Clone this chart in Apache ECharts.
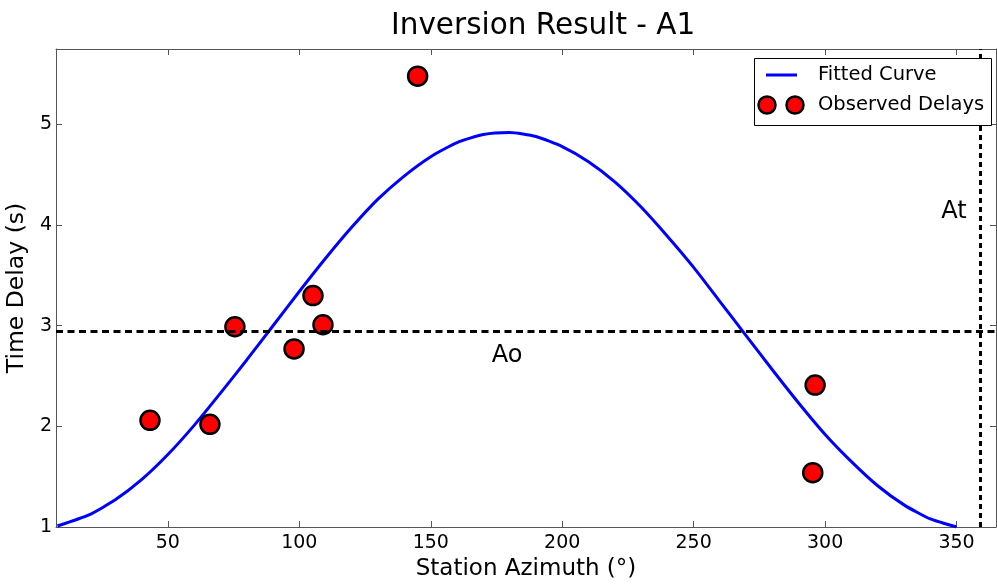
<!DOCTYPE html>
<html>
<head>
<meta charset="utf-8">
<script src="https://cdn.jsdelivr.net/npm/echarts@6/dist/echarts.min.js"></script>
<style>
  html, body { margin: 0; padding: 0; background: #fff; }
  #chart { width: 997px; height: 584px; }
</style>
</head>
<body>
<div id="chart"></div>
<script>
// observed station delays
var azimuth = [43.2, 66.0, 75.5, 98.0, 105.2, 109.0, 145.0, 296.2, 295.3];
var delay   = [2.06, 2.02, 2.99, 2.77, 3.30, 3.01, 5.48, 2.41, 1.54];

// fitted curve
var curveX = [8, 20, 30, 40, 50, 60, 70, 80, 90, 100, 110, 120, 130, 140, 150, 160, 170, 180,
              190, 200, 210, 220, 230, 240, 250, 260, 270, 280, 290, 300, 310, 320, 330, 340, 350];
var curveY = [1.01, 1.12, 1.27, 1.47, 1.72, 2.01, 2.33, 2.66, 3.00, 3.34, 3.67, 3.98, 4.26, 4.49,
              4.68, 4.82, 4.90, 4.92, 4.88, 4.78, 4.63, 4.43, 4.18, 3.89, 3.58, 3.24, 2.90, 2.56,
              2.23, 1.92, 1.65, 1.41, 1.22, 1.08, 1.00];

// reference lines
var aoValue = 2.95;   // horizontal line (Ao)
var atValue = 359;    // vertical line (At)

// annotation labels [x, y, text]
var notes = [[179, 2.70, 'Ao'], [349, 4.13, 'At']];

var font = 'DejaVu Sans';
var xMin = 7.45, xMax = 365, yMin = 1, yMax = 5.75;

var chart = echarts.init(document.getElementById('chart'));

var frameLine = { show: true, lineStyle: { color: '#555', width: 1 } };
var innerTick = { show: true, inside: true, length: 6, lineStyle: { color: '#555', width: 1 } };

var option = {
  animation: false,
  backgroundColor: '#fff',
  title: {
    text: 'Inversion Result - A1',
    left: 386, top: 6,
    textStyle: { fontFamily: font, fontSize: 29.5, fontWeight: 'normal', color: '#000' }
  },
  grid: { left: 56, right: 1, top: 49, bottom: 57, outerBoundsMode: 'none', containLabel: false },
  xAxis: [
    {
      type: 'value', min: xMin, max: xMax, splitNumber: 7,
      name: 'Station Azimuth (°)', nameLocation: 'middle', nameGap: 30,
      nameTextStyle: { fontFamily: font, fontSize: 23, color: '#000' },
      axisLine: frameLine, axisTick: innerTick, splitLine: { show: false },
      axisLabel: { fontFamily: font, fontSize: 19, color: '#000', margin: 7,
                   showMinLabel: false, showMaxLabel: false }
    },
    {
      type: 'value', position: 'top', min: xMin, max: xMax, splitNumber: 7,
      axisLine: frameLine, axisTick: innerTick, splitLine: { show: false },
      axisLabel: { show: false }
    }
  ],
  yAxis: [
    {
      type: 'value', min: yMin, max: yMax, interval: 1,
      name: 'Time Delay (s)', nameLocation: 'middle', nameGap: 20,
      nameTextStyle: { fontFamily: font, fontSize: 23.5, color: '#000' },
      axisLine: frameLine, axisTick: innerTick, splitLine: { show: false },
      axisLabel: { fontFamily: font, fontSize: 19, color: '#000', margin: 4,
                   showMaxLabel: false }
    },
    {
      type: 'value', position: 'right', min: yMin, max: yMax, interval: 1,
      axisLine: frameLine, axisTick: innerTick, splitLine: { show: false },
      axisLabel: { show: false }
    }
  ],
  series: [
    {
      name: 'Reference',
      type: 'line',
      data: [],
      markLine: {
        silent: true,
        symbol: 'none',
        label: { show: false },
        data: [
          { yAxis: aoValue, lineStyle: { type: [7, 4.5], color: '#000', width: 3 } },
          { xAxis: atValue, lineStyle: { type: [5, 4], color: '#000', width: 3 } }
        ]
      }
    },
    {
      name: 'Fitted Curve',
      type: 'line',
      smooth: 0.2,
      showSymbol: false,
      symbol: 'none',
      lineStyle: { color: '#0000ff', width: 3 },
      data: curveX.map(function (x, i) { return [x, curveY[i]]; }),
      z: 3
    },
    {
      name: 'Observed Delays',
      type: 'scatter',
      symbolSize: 19,
      itemStyle: { color: '#ff0000', borderColor: '#000', borderWidth: 2.5, opacity: 1 },
      data: azimuth.map(function (a, i) { return [a, delay[i]]; }),
      z: 4
    },
    {
      name: 'notes',
      type: 'scatter',
      silent: true,
      symbolSize: 0,
      itemStyle: { opacity: 1 },
      data: notes.map(function (n) { return { value: [n[0], n[1]], name: n[2] }; }),
      label: {
        show: true, position: 'inside', formatter: '{b}',
        fontFamily: font, fontSize: 24, color: '#000', textBorderWidth: 0, opacity: 1
      }
    }
  ],
  graphic: [
    { type: 'rect', left: 754, top: 58, shape: { width: 237, height: 67 },
      style: { fill: '#fff', stroke: '#000', lineWidth: 1 }, z: 100 },
    { type: 'line', shape: { x1: 766, y1: 75, x2: 797, y2: 75 },
      style: { stroke: '#0000ff', lineWidth: 3 }, z: 101 },
    { type: 'text', x: 818, y: 75,
      style: { text: 'Fitted Curve', font: '19.5px "DejaVu Sans"', fill: '#000', verticalAlign: 'middle' }, z: 101 },
    { type: 'circle', shape: { cx: 767, cy: 105, r: 8.5 },
      style: { fill: '#ff0000', stroke: '#000', lineWidth: 2.5 }, z: 101 },
    { type: 'circle', shape: { cx: 795, cy: 105, r: 8.5 },
      style: { fill: '#ff0000', stroke: '#000', lineWidth: 2.5 }, z: 101 },
    { type: 'text', x: 818, y: 105,
      style: { text: 'Observed Delays', font: '19.5px "DejaVu Sans"', fill: '#000', verticalAlign: 'middle' }, z: 101 }
  ]
};

chart.setOption(option);
</script>
</body>
</html>
